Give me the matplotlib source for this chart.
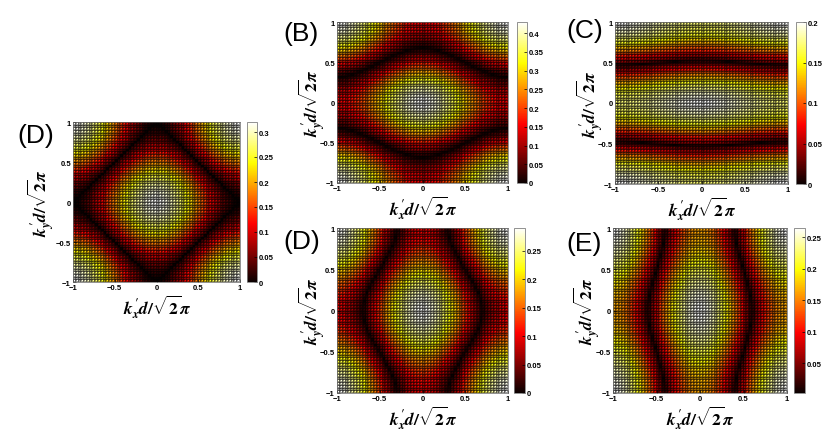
import numpy as np
import matplotlib.pyplot as plt

W, H = 830, 435

panel_labels = ['(D)', '(B)', '(C)', '(D)', '(E)']
# the dark (zero) line: which way it runs and where it crosses the centre line
zero_axis = ['y', 'y', 'y', 'x', 'x']
zero_cross = [1.0, 0.68, 0.53, 0.70, 0.60]
# colour bar top values
peak = [0.32, 0.43, 0.20, 0.29, 0.265]
cbar_min = [0, 0, 0, 0, 0.003]
# how fast the colour rises away from the dark line
power = [0.8, 0.9, 0.8, 0.8, 0.75]
cbar_ticks = [
    [0, 0.05, 0.1, 0.15, 0.2, 0.25, 0.3],
    [0, 0.05, 0.1, 0.15, 0.2, 0.25, 0.3, 0.35, 0.4],
    [0, 0.05, 0.1, 0.15, 0.2],
    [0, 0.05, 0.1, 0.15, 0.2, 0.25],
    [0.05, 0.1, 0.15, 0.2, 0.25],
]
axis_ticks = [-1, -0.5, 0, 0.5, 1]
axis_ticklabels = ['\u22121', '\u22120.5', '0', '0.5', '1']
n_grid = 61

# pixel boxes: axes (x0, x1, ytop, ybottom), colour bar (x0, x1)
ax_box = [(73, 240, 123, 283), (337, 508, 23, 184), (615, 788, 23, 185),
          (337, 508, 229, 394), (613, 787, 229, 394)]
cb_box = [(247, 257), (517, 527), (796, 806), (514, 525), (794, 805)]
label_xy = [(17, 143), (283, 41), (566, 38), (283, 249), (566, 251)]
ylabel_gap = [16, 9, 9, 9, 10]

plt.rcParams['mathtext.fontset'] = 'custom'
plt.rcParams['mathtext.it'] = 'STIXGeneral:italic:bold'
plt.rcParams['mathtext.rm'] = 'STIXGeneral:bold'
plt.rcParams['mathtext.bf'] = 'STIXGeneral:bold'
plt.rcParams['font.family'] = ['Liberation Sans', 'DejaVu Sans']


def field(k, axis, cross, top, p):
    kx, ky = np.meshgrid(k, k)
    r = -np.cos(np.pi * cross)
    if axis == 'y':
        f = r * np.cos(np.pi * kx) + np.cos(np.pi * ky)
    else:
        f = np.cos(np.pi * kx) + r * np.cos(np.pi * ky)
    return top * (np.abs(f) / (1 + r)) ** p


def box(x0, x1, y0, y1):
    return [x0 / W, 1 - y1 / H, (x1 - x0) / W, (y1 - y0) / H]


fig = plt.figure(figsize=(W / 100, H / 100), dpi=100)
k = np.linspace(-1, 1, n_grid)
kc = (k[:-1] + k[1:]) / 2

for i in range(5):
    x0, x1, yt, yb = ax_box[i]
    ax = fig.add_axes(box(x0, x1, yt, yb))
    z = field(kc, zero_axis[i], zero_cross[i], peak[i], power[i])
    mesh = ax.pcolormesh(k, k, z, cmap='hot', vmin=cbar_min[i], vmax=peak[i],
                         edgecolors=(0, 0, 0, 0.4), linewidth=0.3)
    ax.set_xlim(-1, 1)
    ax.set_ylim(-1, 1)
    ax.set_xticks(axis_ticks)
    ax.set_xticklabels(axis_ticklabels)
    ax.set_yticks(axis_ticks)
    ax.set_yticklabels(axis_ticklabels)
    ax.tick_params(direction='in', length=2, width=0.5, labelsize=5.5, pad=1.5)
    for lab in ax.get_xticklabels() + ax.get_yticklabels():
        lab.set_fontweight('bold')
    for s in ax.spines.values():
        s.set_linewidth(0.5)
        s.set_color('0.4')
    ax.set_xlabel(r"$k^{\prime}_{x}d/\sqrt{2}\pi$", fontsize=12.5, labelpad=1)
    ax.set_ylabel(r"$k^{\prime}_{y}d/\sqrt{2}\pi$", fontsize=12.5)
    ax.yaxis.set_label_coords(-ylabel_gap[i] / (x1 - x0), 0.5)

    cx0, cx1 = cb_box[i]
    cax = fig.add_axes(box(cx0, cx1, yt, yb))
    cb = fig.colorbar(mesh, cax=cax)
    cb.set_ticks(cbar_ticks[i])
    cb.set_ticklabels(['%g' % t for t in cbar_ticks[i]])
    cb.outline.set_linewidth(0.6)
    cb.outline.set_edgecolor('0.5')
    cax.tick_params(direction='in', length=2, width=0.5, labelsize=5.5, pad=1.5)
    for lab in cax.get_yticklabels():
        lab.set_fontweight('bold')

    lx, ly = label_xy[i]
    fig.text(lx / W, 1 - ly / H, panel_labels[i], fontsize=19)

fig.savefig('out.png', dpi=100)
